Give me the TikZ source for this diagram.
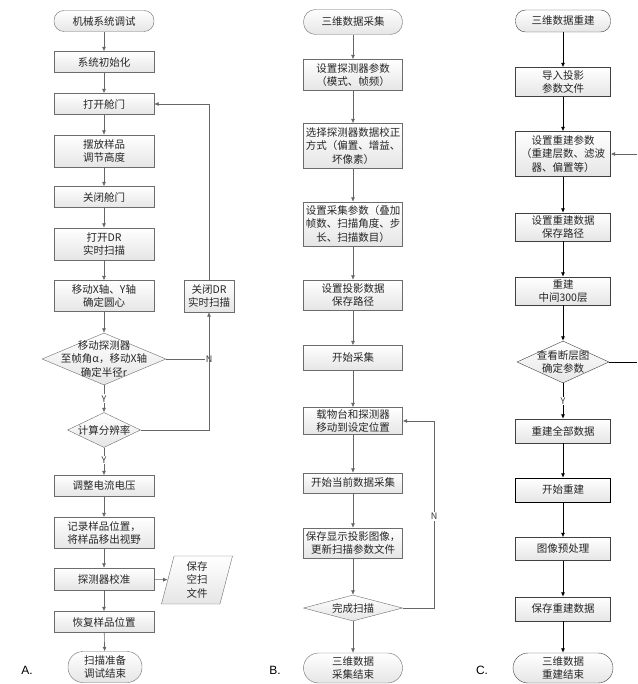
\documentclass[tikz,border=0pt]{standalone}
\usepackage{fontspec}
\setmainfont{Noto Sans CJK SC}
\newfontfamily\tagfont{Liberation Sans}
\usetikzlibrary{shapes.geometric,arrows.meta}

\begin{document}
\begin{tikzpicture}[x=1pt, y=-1pt, >={Latex[length=4.5pt,width=4pt]},
    box/.style={draw=gray!85!black, top color=white, bottom color=gray!20, minimum width=100pt,
        minimum height=21pt, inner sep=1pt, align=center, text=black!85,
        font=\fontsize{10.5}{13.5}\selectfont},
    term/.style={box, rounded corners=10pt},
    cond/.style={diamond, draw=gray!85!black, top color=white, bottom color=gray!20, inner sep=0pt},
    condtext/.style={align=center, text=black!85, font=\fontsize{10.5}{13.5}\selectfont},
    flow/.style={draw=gray!80!black, line width=0.6pt},
    flowc/.style={draw=black, line width=0.8pt},
    yn/.style={fill=white, inner sep=1pt, text=black!80, font=\fontsize{9}{10}\selectfont}]
    \useasboundingbox (0,0) rectangle (637,684);

    % Column A
    \node[term] (a1) at (104,21) {机械系统调试};
    \node[box] (a2) at (104,62) {系统初始化};
    \node[box] (a3) at (104,104) {打开舱门};
    \node[box, minimum height=32pt] (a4) at (104,151) {摆放样品\\调节高度};
    \node[box] (a5) at (104,197) {关闭舱门};
    \node[box, minimum height=32pt] (a6) at (104,244) {打开DR\\实时扫描};
    \node[box, minimum height=31pt] (a7) at (104,296) {移动X轴、Y轴\\确定圆心};
    \node[cond, minimum width=124pt, minimum height=52pt] (a8) at (104,359) {};
    \node[condtext] (a8t) at (a8) {移动探测器\\至帧角α，移动X轴\\确定半径r};
    \node[cond, minimum width=73pt, minimum height=35pt] (a9) at (104,430) {};
    \node[condtext] (a9t) at (a9) {计算分辨率};
    \node[box] (a10) at (104,486) {调整电流电压};
    \node[box, minimum height=31pt] (a11) at (104,533) {记录样品位置，\\将样品移出视野};
    \node[box, minimum height=22pt] (a12) at (104,579) {探测器校准};
    \node[box, trapezium, trapezium left angle=72, trapezium right angle=108, trapezium stretches body,
        minimum width=71pt, minimum height=48pt] (a13) at (197,580) {保存\\空扫\\文件};
    \node[box] (a14) at (104,622) {恢复样品位置};
    \node[term, rounded corners=15pt, minimum width=74pt, minimum height=31pt] (a15) at (105,667) {扫描准备\\调试结束};
    \node[box, minimum width=50pt, minimum height=32pt] (ar) at (209,296) {关闭DR\\实时扫描};

    \draw[flow, ->] (a1) -- (a2);
    \draw[flow, ->] (a2) -- (a3);
    \draw[flow, ->] (a3) -- (a4);
    \draw[flow, ->] (a4) -- (a5);
    \draw[flow, ->] (a5) -- (a6);
    \draw[flow, ->] (a6) -- (a7);
    \draw[flow, ->] (a7) -- (a8);
    \draw[flow, ->] (a8) -- node[yn] {Y} (a9);
    \draw[flow, ->] (a9) -- node[yn, pos=0.45] {Y} (a10);
    \draw[flow, ->] (a10) -- (a11);
    \draw[flow, ->] (a11) -- (a12);
    \draw[flow, ->] (a12) -- (a13);
    \draw[flow, ->] (a12) -- (a14);
    \draw[flow, ->] (a14) -- (a15);
    \draw[flow] (a8.east) -- (a8.east -| ar.south) node[yn] {N};
    \draw[flow, ->] (a9.east) -| (ar.south);
    \draw[flow, ->] (ar.north) |- (a3.east);

    % Column B
    \node[term, rounded corners=12pt, minimum width=99pt, minimum height=25pt] (b1) at (353,22) {三维数据采集};
    \node[box, minimum width=99pt, minimum height=31pt] (b2) at (353,75) {设置探测器参数\\（模式、帧频）};
    \node[box, minimum width=99pt, minimum height=45pt] (b3) at (353,146) {选择探测器数据校正\\方式（偏置、增益、\\坏像素）};
    \node[box, minimum width=99pt, minimum height=44pt] (b4) at (353,224) {设置采集参数（叠加\\帧数、扫描角度、步\\长、扫描数目）};
    \node[box, minimum width=99pt, minimum height=30pt] (b5) at (353,295) {设置投影数据\\保存路径};
    \node[box, minimum width=99pt, minimum height=25pt] (b6) at (353,358) {开始采集};
    \node[box, minimum width=99pt, minimum height=27pt] (b7) at (353,421) {载物台和探测器\\移动到设定位置};
    \node[box, minimum width=99pt, minimum height=20pt] (b8) at (353,483) {开始当前数据采集};
    \node[box, minimum width=99pt, minimum height=30pt] (b9) at (353,543) {保存显示投影图像，\\更新扫描参数文件};
    \node[cond, minimum width=99pt, minimum height=26pt] (b10) at (353,608) {};
    \node[condtext] (b10t) at (b10) {完成扫描};
    \node[term, rounded corners=15pt, minimum width=99pt, minimum height=30pt] (b11) at (353,668) {三维数据\\采集结束};
    \coordinate (bturn) at (434,608);

    \draw[flow, ->] (b1) -- (b2);
    \draw[flow, ->] (b2) -- (b3);
    \draw[flow, ->] (b3) -- (b4);
    \draw[flow, ->] (b4) -- (b5);
    \draw[flow, ->] (b5) -- (b6);
    \draw[flow, ->] (b6) -- (b7);
    \draw[flow, ->] (b7) -- (b8);
    \draw[flow, ->] (b8) -- (b9);
    \draw[flow, ->] (b9) -- (b10);
    \draw[flow, ->] (b10) -- (b11);
    \draw[flow, ->] (b10.east) -- (bturn) -- node[yn, pos=0.49] {N} (bturn |- b7) -- (b7.east);

    % Column C
    \node[term, draw=black!75, minimum width=95pt, minimum height=22pt] (c1) at (563,21) {三维数据重建};
    \node[box, draw=black!75, minimum width=95pt, minimum height=29pt] (c2) at (563,82) {导入投影\\参数文件};
    \node[box, draw=black!75, minimum width=95pt, minimum height=45pt] (c3) at (563,154) {设置重建参数\\（重建层数、滤波\\器、偏置等）};
    \node[box, draw=black!75, minimum width=95pt, minimum height=28pt] (c4) at (563,227) {设置重建数据\\保存路径};
    \node[box, draw=black!75, minimum width=95pt, minimum height=28pt] (c5) at (563,291) {重建\\中间300层};
    \node[cond, draw=black!75, minimum width=92pt, minimum height=42pt] (c6) at (563,362) {};
    \node[condtext] (c6t) at (c6) {查看断层图\\确定参数};
    \node[box, draw=black!75, minimum width=95pt, minimum height=24pt] (c7) at (563,431) {重建全部数据};
    \node[box, draw=black, minimum width=95pt, minimum height=24pt] (c8) at (563,490) {开始重建};
    \node[box, draw=black!75, minimum width=95pt, minimum height=23pt] (c9) at (563,549) {图像预处理};
    \node[box, draw=black!75, minimum width=95pt, minimum height=24pt] (c10) at (563,609) {保存重建数据};
    \node[term, draw=black!75, rounded corners=15pt, minimum width=100pt, minimum height=30pt] (c11) at (563,668) {三维数据\\重建结束};
    \coordinate (cin) at (637,154);
    \coordinate (cout) at (637,362);

    \draw[flowc, ->] (c1) -- (c2);
    \draw[flowc, ->] (c2) -- (c3);
    \draw[flowc, ->] (c3) -- (c4);
    \draw[flowc, ->] (c4) -- (c5);
    \draw[flowc, ->] (c5) -- (c6);
    \draw[flowc, ->] (c6) -- node[yn] {Y} (c7);
    \draw[flowc, ->] (c7) -- (c8);
    \draw[flowc, ->] (c8) -- (c9);
    \draw[flowc, ->] (c9) -- (c10);
    \draw[flowc, ->] (c10) -- (c11);
    \draw[flow, ->] (cin) -- (c3.east);
    \draw[flowc] (c6.east) -- (cout);

    % Panel tags
    \node[font=\tagfont\fontsize{12}{14}\selectfont] (tagA) at (27,670) {A.};
    \node[font=\tagfont\fontsize{12}{14}\selectfont] (tagB) at (275,670) {B.};
    \node[font=\tagfont\fontsize{12}{14}\selectfont] (tagC) at (482,670) {C.};
\end{tikzpicture}
\end{document}
